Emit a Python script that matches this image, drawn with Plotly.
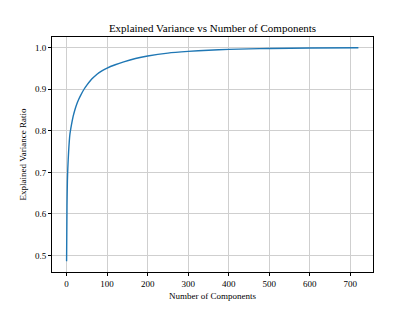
import plotly.graph_objects as go

components = [0, 1, 2, 3, 5, 8, 12, 16, 20, 25, 30, 35, 43, 50, 59, 66, 75, 87, 100, 120, 141, 170, 200, 250, 300, 350, 400, 450, 500, 600, 720]
cum_variance = [0.486, 0.62, 0.68, 0.71, 0.75, 0.79, 0.814, 0.834, 0.849, 0.864, 0.876, 0.886, 0.900, 0.910, 0.921, 0.928, 0.936, 0.944, 0.951, 0.959, 0.966, 0.974, 0.980, 0.987, 0.991, 0.994, 0.996, 0.9972, 0.998, 0.9993, 1.0]

x_ticks = [0, 100, 200, 300, 400, 500, 600, 700]
y_ticks = [0.5, 0.6, 0.7, 0.8, 0.9, 1.0]

font_family = "Liberation Serif, Times New Roman, serif"

# page body has an 8px default margin; compensate so the plot lands where intended
OFF = 8
W, H = 415 - OFF, 311 - OFF

fig = go.Figure()
fig.add_trace(go.Scatter(
    x=components, y=cum_variance, mode="lines",
    line=dict(color="#1f77b4", width=1.4, shape="spline", smoothing=0.6),
    showlegend=False,
))

xmin, xmax = min(components), max(components)
ymin, ymax = min(cum_variance), max(cum_variance)
xm = 0.05 * (xmax - xmin)
ym = 0.05 * (ymax - ymin)

axis_common = dict(
    showline=True, linecolor="black", linewidth=0.9, mirror=True,
    ticks="outside", ticklen=3, tickwidth=0.8, tickcolor="black",
    showgrid=True, gridcolor="#cfcfcf", gridwidth=0.9,
    zeroline=False,
    tickfont=dict(family=font_family, size=9, color="black"),
)

left, right, top, bottom = 52 - OFF, 415 - 373, 37 - OFF, 311 - 277

fig.update_layout(
    width=W, height=H,
    margin=dict(l=left, r=right, t=top, b=bottom),
    paper_bgcolor="white", plot_bgcolor="white",
    font=dict(family=font_family, color="black"),
    title=dict(text="Explained Variance vs Number of Components",
               x=(left + (W - right)) / 2 / W, xanchor="center",
               y=1 - (28 - OFF) / H, yanchor="middle",
               font=dict(family=font_family, size=11, color="black")),
    xaxis=dict(range=[xmin - xm, xmax + xm], tickvals=x_ticks,
               title=dict(text="Number of Components", standoff=4,
                          font=dict(family=font_family, size=9)),
               **axis_common),
    yaxis=dict(range=[ymin - ym, ymax + ym], tickvals=y_ticks, tickformat=".1f",
               title=dict(text="Explained Variance Ratio", standoff=6,
                          font=dict(family=font_family, size=9)),
               **axis_common),
)

fig.write_html("out.html")
